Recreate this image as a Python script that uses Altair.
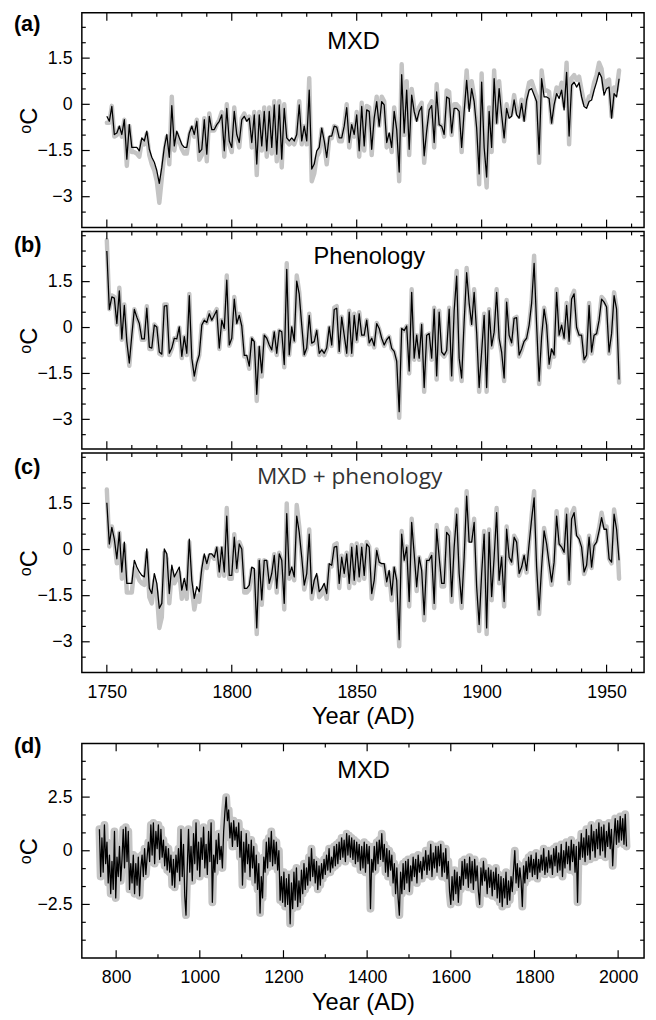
import altair as alt
import pandas as pd

# ---------------- data ----------------
start_short = 1750          # panels (a)-(c): annual values 1750-1955
start_long = 760            # panel (d): values every 3 years 760-2020
step_long = 3

mxd_black = [
    -0.39, -0.55, -0.07, -0.98, -0.93, -0.71, -0.98, -0.5, -1.78, -0.66,
    -1.4, -1.4, -1.4, -1.51, -1.09, -1.19, -0.87, -1.46, -1.72, -1.88,
    -2.15, -2.57, -2.04, -1.4, -0.98, -1.72, -0.04, -1.35, -0.87, -1.09,
    -1.3, -1.4, -1.4, -0.93, -0.71, -0.98, -0.55, -1.56, -1.46, -0.5,
    -1.62, -0.39, -0.82, -0.82, -0.66, -0.55, -0.34, -1.51, -0.13, -1.19,
    -1.4, -0.23, -0.98, -1.24, -0.5, -0.39, -0.55, -0.45, -1.24, -0.34,
    -1.94, -0.34, -1.35, -0.23, -1.51, -0.23, -1.4, -0.02, -1.62, -0.02,
    -1.78, -0.13, -1.09, -1.19, -1.09, -1.19, -0.98, -0.02, -1.19, -0.71,
    -1.19, 0.46, -2.1, -1.94, -1.51, -1.4, -0.77, -1.19, -1.72, -1.03,
    -1.03, -0.71, -0.74, -1.09, -1.09, -0.71, -0.11, -1.24, -0.66, -0.98,
    -0.34, -1.51, -0.07, -1.35, -0.18, -0.23, -1.46, -0.45, 0.09, -0.71,
    0.09, -0.02, -1.24, -0.93, -1.4, -0.23, -0.82, -2.2, 0.96, -0.93,
    0.46, -1.46, 0.3, -0.23, -0.55, -0.23, -0.07, -1.67, -0.87, -0.18,
    -0.04, -1.24, 0.4, -0.66, -0.71, -0.98, 0.24, 0.19, -0.93, -0.13,
    -0.13, -0.23, -1.4, -0.23, 0.78, -0.23, 0.51, 0.09, -0.77, -2.26,
    0.72, -1.4, -2.36, -0.23, -1.4, 0.83, -0.61, 0.51, -0.34, -1.09,
    -0.13, -0.45, -0.39, 0.14, -0.34, -0.45, 0.03, -0.55, 0.14, 0.46,
    0.51, 0.3, 0.09, -1.62, 0.83, 0.24, 0.24, 0.19, -0.61, -0.02,
    0.35, 0.19, 0.46, -0.18, 1.04, -1.03, 0.62, 0.72, 0.56, 0.7,
    0.24, -0.07, -0.13, 0.09, 0.14, 0.46, 0.72, 1.04, 0.88, 0.3,
    0.51, 0.56, -0.45, 0.35, 0.24, 0.83,
]
mxd_gray = [
    -0.6, -0.6, -0.05, -1.05, -1.0, -0.75, -1.05, -0.5, -2.0, -0.7,
    -1.55, -1.55, -1.6, -1.7, -1.2, -1.3, -0.95, -1.65, -1.95, -2.15,
    -2.5, -3.2, -2.4, -1.6, -1.05, -1.95, 0.25, -1.5, -0.95, -1.2,
    -1.45, -1.6, -1.6, -1.0, -0.75, -1.05, -0.5, -1.8, -1.65, -0.45,
    -1.85, -0.3, -0.85, -0.85, -0.65, -0.5, -0.25, -1.7, 0.0, -1.3,
    -1.55, -0.1, -1.05, -1.4, -0.45, -0.3, -0.5, -0.4, -1.4, -0.25,
    -2.3, -0.25, -1.5, -0.1, -1.7, -0.1, -1.6, 0.1, -1.85, 0.1,
    -2.05, 0.0, -1.2, -1.3, -1.2, -1.3, -1.05, 0.1, -1.3, -0.7,
    -1.3, 0.85, -2.5, -2.25, -1.7, -1.55, -0.8, -1.3, -1.95, -1.1,
    -1.1, -0.7, -0.75, -1.2, -1.2, -0.7, 0.0, -1.4, -0.65, -1.05,
    -0.25, -1.7, 0.05, -1.5, -0.05, -0.1, -1.65, -0.4, 0.25, -0.7,
    0.25, 0.1, -1.4, -1.0, -1.55, -0.1, -0.85, -2.5, 1.3, -1.0,
    0.75, -1.65, 0.5, -0.1, -0.5, -0.1, 0.05, -1.9, -0.9, -0.05,
    0.1, -1.4, 0.65, -0.65, -0.7, -1.05, 0.45, 0.4, -1.0, 0.0,
    0.0, -0.1, -1.55, -0.1, 1.1, -0.1, 0.75, 0.25, -0.8, -2.6,
    1.0, -1.55, -2.7, -0.1, -1.55, 1.1, -0.6, 0.75, -0.25, -1.2,
    0.0, -0.4, -0.3, 0.3, -0.25, -0.4, 0.15, -0.5, 0.3, 0.7,
    0.75, 0.5, 0.25, -1.9, 1.1, 0.45, 0.45, 0.4, -0.6, 0.1,
    0.55, 0.4, 0.7, -0.05, 1.35, -1.3, 0.85, 0.95, 0.8, 0.9,
    0.45, 0.05, 0.0, 0.25, 0.3, 0.7, 0.95, 1.35, 1.15, 0.5,
    0.75, 0.8, -0.4, 0.55, 0.45, 1.1,
]
pheno_black = [
    2.5, 0.59, 1.0, 0.96, 0.13, 1.2, -0.37, 0.72, -0.46, -1.16,
    -0.25, 0.59, 0.34, 0.13, -0.37, -0.37, 0.63, -0.64, -0.67, 0.08,
    0.02, -0.8, -0.87, 0.7, 0.72, -0.84, -0.67, -0.35, -0.37, 0.02,
    -0.94, -0.3, -0.84, 1.04, -1.0, -1.59, -1.16, -0.89, 0.08, 0.24,
    0.16, 0.45, 0.24, 0.4, 0.56, -0.67, 0.24, -0.03, 1.55, -0.57,
    -0.35, 0.93, 0.13, 0.4, 0.05, -0.91, -0.91, -1.26, -0.35, -0.46,
    -2.18, -0.62, -1.48, -0.25, -0.35, -0.57, -0.73, -0.14, -0.84, -0.09,
    -0.14, -1.21, 1.9, -0.89, 0.02, -0.44, 1.52, 1.09, 0.08, -0.89,
    -0.67, 0.4, -0.51, -0.46, -0.09, -0.84, -0.73, -0.84, -0.67, 0.02,
    -0.57, 0.59, 0.63, -0.78, 0.34, -0.25, -0.84, 0.5, -0.84, 0.4,
    -0.41, 0.45, -0.25, -0.25, 0.24, -0.5, -0.35, -0.6, 0.13, -0.03,
    -0.35, -0.57, -0.4, -0.3, -0.68, -0.78, -1.1, -2.75, -0.03, -0.1,
    0.05, -1.42, 1.15, -1.0, -0.25, -1.0, 0.1, -1.96, -0.25, -0.2,
    -1.0, 0.6, -1.58, 0.5, -0.8, -0.9, -0.75, 0.6, -1.58, 0.55,
    1.68, -1.0, -1.65, 0.2, 1.79, 0.8, 0.1, 1.15, -0.15, -1.96,
    -0.8, 0.4, -1.96, 0.55, -0.6, -0.15, 1.15, -0.35, -0.8, -1.65,
    0.83, -0.25, -0.5, 0.3, 0.32, -0.9, -0.7, -0.45, -0.35, 0.08,
    0.8, 2.1, 0.08, -1.75, -0.3, 0.6, 0.08, -1.2, -0.7, -0.9,
    1.15, -0.25, 0.08, -0.35, 0.72, -0.45, 0.93, 1.1, 0.0, -0.25,
    -0.25, -1.05, -0.9, 0.72, -0.8, -0.25, -0.2, 0.24, 0.93, 0.83,
    0.67, -0.8, -0.2, 1.04, 0.6, -1.7,
]
pheno_gray = [
    2.85, 0.6, 1.05, 1.0, 0.1, 1.3, -0.4, 0.75, -0.5, -1.25,
    -0.25, 0.6, 0.35, 0.1, -0.4, -0.4, 0.7, -0.7, -0.7, 0.1,
    0.0, -0.85, -0.9, 0.75, 0.75, -0.9, -0.7, -0.35, -0.4, 0.0,
    -1.0, -0.3, -0.9, 1.1, -1.05, -1.7, -1.2, -0.9, 0.1, 0.25,
    0.15, 0.5, 0.25, 0.45, 0.6, -0.7, 0.25, -0.05, 1.7, -0.6,
    -0.35, 1.0, 0.15, 0.45, 0.05, -0.95, -0.95, -1.35, -0.35, -0.5,
    -2.4, -0.65, -1.6, -0.25, -0.35, -0.6, -0.75, -0.15, -0.9, -0.1,
    -0.15, -1.3, 2.1, -0.9, 0.0, -0.45, 1.7, 1.15, 0.1, -0.9,
    -0.7, 0.45, -0.55, -0.5, -0.1, -0.9, -0.75, -0.9, -0.7, 0.0,
    -0.6, 0.65, 0.7, -0.8, 0.35, -0.25, -0.9, 0.55, -0.9, 0.45,
    -0.45, 0.5, -0.25, -0.25, 0.25, -0.55, -0.35, -0.65, 0.15, -0.05,
    -0.35, -0.6, -0.4, -0.3, -0.7, -0.8, -1.15, -2.95, -0.05, -0.1,
    0.05, -1.5, 1.25, -1.05, -0.25, -1.05, 0.1, -2.1, -0.25, -0.2,
    -1.05, 0.65, -1.7, 0.55, -0.85, -0.95, -0.8, 0.65, -1.7, 0.6,
    1.85, -1.05, -1.75, 0.2, 1.95, 0.85, 0.1, 1.25, -0.15, -2.1,
    -0.85, 0.45, -2.1, 0.6, -0.65, -0.15, 1.25, -0.35, -0.85, -1.75,
    0.9, -0.25, -0.55, 0.3, 0.35, -0.95, -0.75, -0.45, -0.35, 0.1,
    0.85, 2.35, 0.1, -1.85, -0.3, 0.65, 0.1, -1.3, -0.75, -0.95,
    1.25, -0.25, 0.1, -0.35, 0.8, -0.5, 1.0, 1.2, 0.0, -0.25,
    -0.25, -1.1, -0.95, 0.8, -0.85, -0.25, -0.2, 0.25, 1.0, 0.9,
    0.7, -0.85, -0.2, 1.15, 0.65, -1.8,
]
comb_black = [
    1.52, 0.18, 0.72, 0.34, -0.3, 0.56, -0.73, 0.24, -1.1, -1.1,
    -1.1, -0.35, -0.57, -0.73, -0.84, -0.89, 0.02, -1.26, -1.43, -0.78,
    -1.1, -1.91, -1.75, 0.02, -0.14, -1.43, -0.51, -0.89, -0.73, -0.57,
    -1.32, -0.94, -1.32, 0.34, -1.0, -1.59, -1.21, -1.37, -0.62, -0.14,
    -0.46, -0.14, -0.14, -0.25, 0.08, -0.73, 0.08, -0.73, 1.09, -0.84,
    -0.84, 0.4, -0.62, 0.18, 0.02, -1.26, -1.26, -1.16, -0.57, -0.62,
    -2.55, -0.35, -1.64, -0.35, -0.35, -1.1, -0.78, -0.19, -1.26, -0.14,
    -0.35, -1.75, 1.17, -0.84, -0.57, -0.89, 1.09, 0.56, -0.25, -1.16,
    -0.78, 0.5, -1.43, -1.0, -0.78, -1.37, -1.26, -1.1, -1.43, -0.46,
    -0.51, 0.08, 0.1, -1.1, -0.25, -0.78, -0.14, -1.1, 0.08, -1.0,
    0.13, -0.89, 0.08, -0.84, 0.18, 0.08, -1.43, -1.0, -0.03, -0.41,
    -0.46, -0.46, -1.05, -0.68, -1.48, -0.57, -1.0, -2.93, 0.5, -0.35,
    0.08, -1.69, 0.88, -0.14, -1.21, -0.25, -0.68, -2.12, -0.35, -0.35,
    -0.19, -1.75, 0.66, -0.25, -1.1, -1.1, 0.56, 0.45, -1.53, 0.08,
    1.15, -0.78, -1.75, -0.25, 1.74, 0.24, 0.24, 0.88, -1.21, -2.44,
    -0.78, 0.5, -2.55, 0.56, -1.53, -0.25, 1.2, -1.0, -0.25, -1.69,
    0.66, -0.25, -0.41, 0.4, 0.24, -0.78, -0.57, -0.19, -0.68, 0.18,
    0.99, 1.68, -0.57, -1.96, -0.57, 0.61, 0.18, -0.46, -1.05, -0.41,
    1.09, 0.18, 0.08, -0.09, 1.15, -1.0, 0.99, 1.2, 0.45, 0.34,
    0.08, -0.73, -0.51, 0.4, -0.57, 0.13, 0.24, 0.61, 1.04, 0.66,
    0.66, -0.3, -0.41, 1.15, 0.66, -0.35,
]
comb_gray = [
    1.95, 0.1, 0.75, 0.3, -0.45, 0.55, -0.95, 0.15, -1.4, -1.4,
    -1.4, -0.6, -0.8, -1.0, -1.1, -1.15, -0.1, -1.55, -1.75, -1.0,
    -1.4, -2.55, -2.2, -0.1, -0.3, -1.75, -0.7, -1.1, -0.95, -0.75,
    -1.6, -1.15, -1.6, 0.25, -1.25, -1.95, -1.5, -1.7, -0.8, -0.25,
    -0.6, -0.2, -0.2, -0.3, 0.05, -0.85, 0.05, -0.85, 1.35, -0.95,
    -0.95, 0.5, -0.7, 0.25, 0.05, -1.4, -1.4, -1.3, -0.65, -0.7,
    -2.75, -0.35, -1.8, -0.35, -0.4, -1.25, -0.9, -0.15, -1.4, -0.1,
    -0.4, -1.95, 1.5, -0.95, -0.6, -1.0, 1.45, 0.75, -0.25, -1.3,
    -0.9, 0.65, -1.6, -1.15, -0.9, -1.55, -1.45, -1.25, -1.6, -0.5,
    -0.55, 0.15, 0.2, -1.25, -0.2, -0.85, -0.1, -1.25, 0.15, -1.1,
    0.2, -1.0, 0.15, -0.95, 0.25, 0.1, -1.6, -1.1, 0.0, -0.45,
    -0.5, -0.5, -1.15, -0.75, -1.65, -0.6, -1.1, -3.15, 0.6, -0.35,
    0.1, -1.85, 1.0, -0.1, -1.35, -0.25, -0.75, -2.3, -0.35, -0.35,
    -0.15, -1.9, 0.8, -0.25, -1.2, -1.2, 0.7, 0.55, -1.7, 0.1,
    1.3, -0.85, -1.9, -0.25, 1.9, 0.3, 0.3, 1.0, -1.3, -2.65,
    -0.85, 0.6, -2.75, 0.65, -1.65, -0.25, 1.35, -1.1, -0.25, -1.85,
    0.75, -0.25, -0.45, 0.45, 0.3, -0.85, -0.6, -0.2, -0.75, 0.2,
    1.1, 1.9, -0.6, -2.1, -0.6, 0.7, 0.2, -0.5, -1.15, -0.45,
    1.25, 0.2, 0.1, -0.1, 1.3, -1.1, 1.15, 1.35, 0.5, 0.4,
    0.1, -0.8, -0.55, 0.45, -0.6, 0.15, 0.3, 0.7, 1.2, 0.75,
    0.75, -0.3, -0.45, 1.3, 0.75, -0.95,
]
mxd_long = [
    1.0, -1.2, 0.6, -1.0, 1.2, -0.6, 0.4, -1.5, -0.2, -2.0,
    -0.5, -1.8, 0.9, -2.2, -0.3, -1.2, 0.2, -1.4, -0.4, 1.0,
    -0.8, 1.1, -0.5, 0.9, -1.8, -0.6, -1.5, -0.2, -2.0, -0.6,
    -1.6, -0.3, -2.1, -0.8, -0.2, -1.2, 0.1, -1.1, -0.3, 0.4,
    -0.5, 1.2, -0.2, 1.3, -0.6, 0.9, 0.1, 1.2, -0.4, 1.0,
    -0.3, 0.5, -0.7, 0.2, -0.9, 0.1, -1.0, -0.2, -1.6, -0.4,
    -1.7, -0.2, -1.0, 0.1, -1.4, 1.0, -1.2, 0.3, -2.1, -3.0,
    -0.8, 1.0, -1.0, 0.2, -1.4, 0.8, -0.6, 1.3, -0.9, 0.4,
    -1.2, 0.6, -0.4, 1.1, -0.8, 0.3, -1.1, 0.9, -0.5, 1.3,
    -2.4, -0.2, -1.0, 0.5, -0.6, 0.8, -0.4, 0.2, -0.8, 0.9,
    1.8, 2.5, 1.4, 1.9, 0.6, 1.3, 0.2, 1.4, 0.5, 1.1,
    0.2, 1.3, -0.3, 0.9, -1.6, 0.4, -1.0, 0.8, -0.6, 0.3,
    -1.2, 0.5, -0.8, 0.2, -1.5, -0.2, -1.8, -0.6, -2.9, -1.2,
    -2.2, -0.3, -1.0, 0.4, -0.8, 0.6, -0.5, 0.9, -0.7, 0.5,
    -0.6, 0.4, -0.9, 0.0, -2.3, -1.2, -2.4, -1.0, -2.6, -1.3,
    -2.5, -1.1, -3.4, -1.5, -2.7, -1.0, -2.3, -0.8, -2.6, -1.4,
    -2.4, -0.9, -2.0, -0.6, -1.8, -0.8, -1.6, -0.3, -1.4, 0.1,
    -1.2, -0.4, -1.5, -0.5, -1.8, -0.7, -1.6, -0.6, -1.3, -0.4,
    -1.1, -0.2, -0.9, 0.1, -1.0, -0.3, -0.8, 0.2, -0.7, 0.3,
    -0.6, 0.4, -0.4, 0.6, -0.3, 0.5, -0.5, 0.8, -0.2, 0.7,
    -0.3, 0.6, -0.4, 0.5, -0.6, 0.4, -0.5, 0.3, -0.9, 0.2,
    -0.8, 0.4, -1.0, 0.3, -0.6, 0.2, -2.7, -0.4, -1.0, 0.2,
    -0.9, 0.4, -0.6, 0.5, -0.4, 0.8, -0.5, 0.3, -1.0, 0.1,
    -1.2, 0.0, -0.9, -0.2, -1.5, -0.6, -2.0, -0.8, -2.2, -3.0,
    -1.0, -2.0, -0.6, -1.8, -0.5, -1.5, -0.4, -1.9, -0.7, -1.4,
    -0.3, -1.2, -0.4, -1.5, -0.2, -1.0, -0.5, -1.3, -0.3, -0.9,
    0.0, -1.1, -0.2, -0.9, 0.3, -1.2, -0.1, -0.8, 0.2, -1.0,
    0.2, -0.7, 0.3, -1.2, -0.1, -1.0, 0.1, -1.3, -0.5, -1.9,
    -2.5, -1.2, -2.3, -0.9, -2.0, -1.0, -2.4, -1.2, -1.8, -0.5,
    -1.6, -0.4, -1.3, -0.6, -1.7, -0.3, -1.5, -0.5, -1.8, -0.4,
    -1.4, -0.7, -1.9, -2.5, -0.8, -1.6, -0.5, -1.4, -0.9, -2.0,
    -0.8, -1.7, -0.9, -2.1, -1.0, -1.8, -0.8, -2.2, -1.1, -2.4,
    -1.2, -2.6, -1.3, -2.2, -1.0, -2.5, -1.4, -2.3, -1.2, -1.9,
    -0.9, 0.0, -1.5, -0.6, -1.7, -0.8, -1.4, -2.6, -0.7, -1.5,
    -0.5, -1.3, -0.3, -1.0, -0.2, -1.2, -0.4, -1.1, -0.1, -1.3,
    -0.4, -1.0, -0.2, -0.9, 0.1, -1.1, -0.3, -1.0, 0.0, -0.8,
    -0.2, -1.1, 0.1, -0.7, 0.2, -1.0, -0.1, -0.9, 0.3, -1.2,
    0.0, -0.8, 0.4, -0.6, 0.2, -0.9, 0.5, -0.5, 0.3, -1.0,
    0.2, -2.4, 0.4, -0.4, 0.8, -0.3, 0.6, -0.5, 1.0, -0.2,
    0.7, -0.4, 1.2, 0.0, 0.9, -0.3, 1.0, 0.1, 1.3, -0.2,
    1.1, 0.0, 1.2, -0.3, 0.9, 0.2, 1.3, 0.1, 1.0, -0.7,
    0.6, 1.5, 0.3, 1.4, 0.4, 1.6, 0.5, 1.5, 0.3, 1.7,
    0.2,
]

# axis tick values and texts
x_short_major = [1750, 1800, 1850, 1900, 1950]
x_short_minor = [1760, 1770, 1780, 1790, 1810, 1820, 1830, 1840, 1860, 1870,
                 1880, 1890, 1910, 1920, 1930, 1940, 1960]
y_short_major = [-3, -1.5, 0, 1.5]
y_short_minor_a = [-3.5, -2.5, -2, -1, -0.5, 0.5, 1, 2, 2.5]
y_short_minor = [-3.5, -2.5, -2, -1, -0.5, 0.5, 1, 2, 2.5, 3]
x_long_major = [800, 1000, 1200, 1400, 1600, 1800, 2000]
x_long_minor = [900, 1100, 1300, 1500, 1700, 1900]
y_long_major = [-2.5, 0, 2.5]
y_long_minor = [-4.1667, -3.3333, -1.6667, -0.8333, 0.8333, 1.6667, 3.3333, 4.1667]

panel_tags = ["(a)", "(b)", "(c)", "(d)"]
panel_names = ["MXD", "Phenology", "MXD + phenology", "MXD"]
x_title = "Year (AD)"
y_title = "ᵒC"

# ---------------- styling ----------------
W = 571
FONT = "Liberation Sans"
GRAY = "#c4c4c4"
MAJ, MIN = 8, 4

years_short = [start_short + i for i in range(len(mxd_black))]
years_long = [start_long + step_long * i for i in range(len(mxd_long))]


def panel(years, black, gray, xdom, ydom, H, xmaj, xmin, ymaj, ymin, tag, tag_y,
          name, name_x, name_y, name_style, show_x, gray_w,
          lbl_pad=11, title_pad=4, spacer=0):
    if show_x:
        xaxis = alt.Axis(values=xmaj, format="d", labelPadding=lbl_pad,
                         title=x_title, titlePadding=title_pad, labelOverlap=False)
    else:
        xaxis = None
    yaxis = alt.Axis(values=ymaj, format=".2~g", labelPadding=10,
                     title=y_title, titlePadding=-4)
    X = alt.X("year:Q", scale=alt.Scale(domain=xdom, nice=False, zero=False), axis=xaxis)
    Y = alt.Y("value:Q", scale=alt.Scale(domain=ydom, nice=False, zero=False), axis=yaxis)

    layers = [
        alt.Chart(pd.DataFrame({"year": years, "value": gray})).mark_line(
            color=GRAY, strokeWidth=gray_w, strokeJoin="round", strokeCap="round", clip=True
        ).encode(x=X, y=Y),
        alt.Chart(pd.DataFrame({"year": years, "value": black})).mark_line(
            color="black", strokeWidth=1.3, strokeJoin="round", clip=True
        ).encode(x=X, y=Y),
    ]
    for vals, L in ((xmaj, MAJ), (xmin, MIN)):
        d = pd.DataFrame({"year": vals})
        layers.append(alt.Chart(d).mark_rule(color="black", strokeWidth=1.2).encode(
            x=X, y=alt.value(0), y2=alt.value(L)))
        layers.append(alt.Chart(d).mark_rule(color="black", strokeWidth=1.2).encode(
            x=X, y=alt.value(H), y2=alt.value(H - L)))
    for vals, L in ((ymaj, MAJ), (ymin, MIN)):
        d = pd.DataFrame({"value": vals})
        layers.append(alt.Chart(d).mark_rule(color="black", strokeWidth=1.2).encode(
            y=Y, x=alt.value(0), x2=alt.value(L)))
        layers.append(alt.Chart(d).mark_rule(color="black", strokeWidth=1.2).encode(
            y=Y, x=alt.value(W), x2=alt.value(W - L)))
    layers.append(alt.Chart(pd.DataFrame({"t": [tag]})).mark_text(
        font=FONT, fontSize=22, fontWeight="bold", align="left", baseline="alphabetic",
        color="black").encode(x=alt.value(-69), y=alt.value(tag_y), text="t:N"))
    layers.append(alt.Chart(pd.DataFrame({"t": [name]})).mark_text(
        align="center", baseline="alphabetic", **name_style
    ).encode(x=alt.value(name_x), y=alt.value(name_y), text="t:N"))
    if spacer:
        layers.append(alt.Chart(pd.DataFrame({"t": [0]})).mark_rule(strokeOpacity=0).encode(
            x=alt.value(0), y=alt.value(-spacer), y2=alt.value(0)))
    return alt.layer(*layers).properties(width=W, height=H)


name_std = dict(font=FONT, fontSize=24, color="black")
name_c = dict(font="Open Sans", fontSize=23, color="#333333")

pa = panel(years_short, mxd_black, mxd_gray, [1740, 1965], [-4, 2.97], 218,
           x_short_major, x_short_minor, y_short_major, y_short_minor_a,
           panel_tags[0], 18, panel_names[0], 276, 37, name_std, False, 4.5)
pb = panel(years_short, pheno_black, pheno_gray, [1740, 1965], [-3.97, 3.14], 221,
           x_short_major, x_short_minor, y_short_major, y_short_minor,
           panel_tags[1], 21, panel_names[1], 292, 33.5, name_std, False, 4.5)
pc = panel(years_short, comb_black, comb_gray, [1740, 1965], [-4, 3.14], 223,
           x_short_major, x_short_minor, y_short_major, y_short_minor,
           panel_tags[2], 21, panel_names[2], 272, 31.5, name_c, True, 4.5,
           lbl_pad=11, title_pad=4)
pdd = panel(years_long, mxd_long, mxd_long, [718, 2062], [-5, 5], 218,
            x_long_major, x_long_minor, y_long_major, y_long_minor,
            panel_tags[3], 10, panel_names[3], 286, 35.5, name_std, True, 8,
            lbl_pad=11, title_pad=4, spacer=13)

chart = alt.vconcat(pa, pb, pc, pdd, spacing=0).properties(
    padding={"left": 5, "top": -5, "right": 2, "bottom": 0}
).configure_view(
    stroke="black", strokeWidth=1.5
).configure_axis(
    labelFont=FONT, titleFont=FONT, labelFontSize=18, titleFontSize=24,
    labelColor="black", titleColor="black", titleFontWeight="normal",
    grid=False, ticks=False, tickSize=0, domain=False
)

chart.save("out.html", embed_options={"renderer": "svg", "actions": False})
